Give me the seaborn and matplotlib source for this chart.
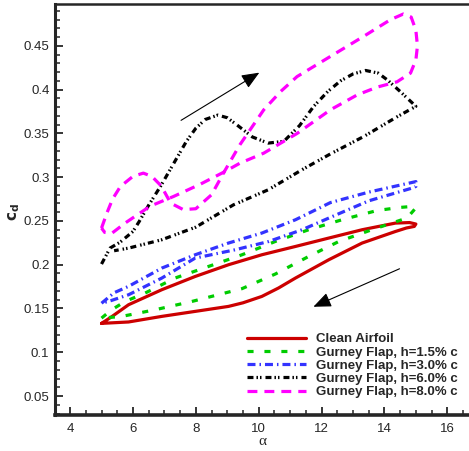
import numpy as np
import pandas as pd
import matplotlib
matplotlib.use("Agg")
import matplotlib.pyplot as plt
import seaborn as sns
from matplotlib.ticker import MultipleLocator

sns.set_style("ticks")
plt.rcParams['font.family'] = ['Liberation Sans', 'DejaVu Sans']

# Hysteresis loops (alpha in deg, drag coefficient)
alpha_clean = [5.0, 5.3, 5.86, 6.92, 7.98, 9.04, 10.1, 11.17, 12.23, 13.29, 14.35, 14.8, 15.0, 14.95,
               14.7, 14.35, 13.29, 12.23, 11.17, 10.63, 10.1, 9.5, 9.04, 7.98, 6.92, 5.86, 5.0]
cd_clean = [0.133, 0.140, 0.1543, 0.1715, 0.1866, 0.200, 0.2114, 0.2209, 0.2305, 0.240, 0.2476, 0.2482, 0.2465, 0.2438,
            0.242, 0.238, 0.2248, 0.2057, 0.1848, 0.1734, 0.1638, 0.1565, 0.1524, 0.1467, 0.141, 0.1346, 0.133]

alpha_h15 = [5.0, 5.3, 5.75, 6.39, 7.34, 8.4, 9.47, 10.53, 11.59, 12.65, 13.77, 14.5, 14.88, 15.0,
             14.72, 13.6, 12.55, 11.59, 10.53, 9.47, 7.87, 6.71, 5.65, 5.0]
cd_h15 = [0.139, 0.148, 0.158, 0.1677, 0.1848, 0.198, 0.2114, 0.2266, 0.240, 0.2514, 0.262, 0.2655, 0.2666, 0.265,
          0.2534, 0.240, 0.2266, 0.2095, 0.1894, 0.1727, 0.158, 0.1486, 0.141, 0.139]

alpha_h30 = [5.0, 5.4, 5.86, 6.92, 7.98, 9.04, 10.1, 11.17, 12.28, 13.5, 14.5, 15.0,
             15.0, 14.88, 13.5, 12.4, 11.38, 10.32, 9.25, 8.3, 7.98, 6.92, 5.86, 5.3, 5.0]
cd_h30 = [0.156, 0.168, 0.1753, 0.1962, 0.2114, 0.2248, 0.2362, 0.2514, 0.271, 0.283, 0.291, 0.295,
          0.2895, 0.2876, 0.273, 0.256, 0.240, 0.2266, 0.2171, 0.210, 0.2076, 0.1848, 0.1657, 0.159, 0.156]

alpha_h60 = [5.0, 5.27, 5.6, 6.0, 6.2, 6.5, 6.9, 7.3, 7.7, 8.0, 8.3, 8.7, 9.0, 9.3, 9.8, 10.3, 10.8, 11.3,
             11.75, 12.2, 12.6, 13.0, 13.4, 13.8, 14.1, 14.5, 15.0,
             14.4, 13.34, 12.3, 11.4, 10.3, 9.2, 8.0, 6.92, 5.86, 5.4]
cd_h60 = [0.2008, 0.219, 0.226, 0.238, 0.2495, 0.268, 0.291, 0.316, 0.341, 0.356, 0.366, 0.371, 0.368, 0.360, 0.346,
          0.339, 0.341, 0.359, 0.381, 0.398, 0.410, 0.418, 0.422, 0.419, 0.411, 0.398, 0.381,
          0.369, 0.3465, 0.327, 0.309, 0.2856, 0.2685, 0.243, 0.2286, 0.219, 0.216]

alpha_h80 = [5.0, 5.17, 5.35, 5.6, 6.0, 6.33, 6.6, 6.9, 7.2, 7.6, 8.0, 8.5, 8.9, 9.4, 10.16, 10.7, 11.22,
             12.28, 13.34, 14.19, 14.6, 14.85, 15.0, 15.05, 15.0, 14.83, 14.4, 13.77, 13.13, 12.28,
             11.22, 10.16, 9.4, 8.9, 8.14, 7.29, 6.55, 5.75, 5.33, 5.1, 5.0]
cd_h80 = [0.2419, 0.259, 0.275, 0.2894, 0.301, 0.3047, 0.301, 0.290, 0.2704, 0.263, 0.264, 0.280, 0.306, 0.337, 0.377, 0.398,
          0.415, 0.438, 0.461, 0.480, 0.4865, 0.483, 0.468, 0.450, 0.434, 0.419, 0.409, 0.403, 0.394, 0.377,
          0.350, 0.3275, 0.316, 0.306, 0.292, 0.278, 0.267, 0.2476, 0.236, 0.237, 0.2419]

labels = ['Clean Airfoil', 'Gurney Flap, h=1.5% c', 'Gurney Flap, h=3.0% c',
          'Gurney Flap, h=6.0% c', 'Gurney Flap, h=8.0% c']
colors = ['#cc0000', '#00cc00', '#3333ff', '#000000', '#ff00ff']
styles = ['-', (0, (1.9, 3.4)), (0, (2.5, 1.25, 0.47, 1.25)),
          (0, (1.87, 0.94, 0.47, 0.63, 0.47, 1.25)), (0, (3.1, 2.2))]

series = [(alpha_clean, cd_clean), (alpha_h15, cd_h15), (alpha_h30, cd_h30),
          (alpha_h60, cd_h60), (alpha_h80, cd_h80)]

fig = plt.figure(figsize=(4.69, 4.51), dpi=100)
ax = fig.add_axes([55 / 469, 1 - 415 / 451, 1 - 55 / 469 + 0.002, (415 - 4.3) / 451])

for (a, c), lab, col, ls in zip(series, labels, colors, styles):
    df = pd.DataFrame({'alpha': a, 'cd': c})
    sns.lineplot(data=df, x='alpha', y='cd', sort=False, estimator=None, ax=ax,
                 color=col, linestyle=ls, lw=2.3, label=lab)

# direction arrows
ax.annotate('', xy=(10.02, 0.4195), xytext=(7.53, 0.365),
            arrowprops=dict(arrowstyle='-|>,head_length=0.6,head_width=0.25', lw=0.8,
                            color='k', mutation_scale=18, shrinkA=0, shrinkB=0))
ax.annotate('', xy=(11.74, 0.152), xytext=(14.48, 0.1954),
            arrowprops=dict(arrowstyle='-|>,head_length=0.6,head_width=0.25', lw=0.8,
                            color='k', mutation_scale=18, shrinkA=0, shrinkB=0))

ax.set_xlim(3.52, 16.72)
ax.set_ylim(0.0283, 0.4976)
ax.xaxis.set_major_locator(MultipleLocator(2))
ax.xaxis.set_minor_locator(MultipleLocator(0.5))
ax.yaxis.set_major_locator(MultipleLocator(0.05))
ax.yaxis.set_minor_locator(MultipleLocator(0.01))
ax.set_yticks([0.05, 0.1, 0.15, 0.2, 0.25, 0.3, 0.35, 0.4, 0.45])
ax.set_yticklabels(['0.05', '0.1', '0.15', '0.2', '0.25', '0.3', '0.35', '0.4', '0.45'])
ax.tick_params(which='major', direction='in', length=6, width=1.3, labelsize=9.5, pad=4)
ax.tick_params(which='minor', direction='in', length=3.5, width=1.1)
ax.tick_params(axis='x', pad=6)

ax.spines['left'].set_linewidth(2.2)
ax.spines['bottom'].set_linewidth(2.6)
ax.spines['top'].set_linewidth(1.8)
ax.spines['right'].set_visible(False)

ax.set_xlabel('α', fontsize=11, family=['Liberation Serif', 'DejaVu Serif'], labelpad=0)
ax.set_ylabel(r'$\mathbf{c_d}$', fontsize=11)
ax.yaxis.set_label_coords(-0.080, 0.494)

ax.legend(loc='upper left', bbox_to_anchor=(247 / 469, 1 - 333 / 451), bbox_transform=fig.transFigure,
          frameon=False, prop={'weight': 'bold', 'size': 9.5}, handlelength=4.5, handletextpad=0.75,
          labelspacing=0.08, borderpad=0, borderaxespad=0)

fig.savefig('out.png', dpi=100)
